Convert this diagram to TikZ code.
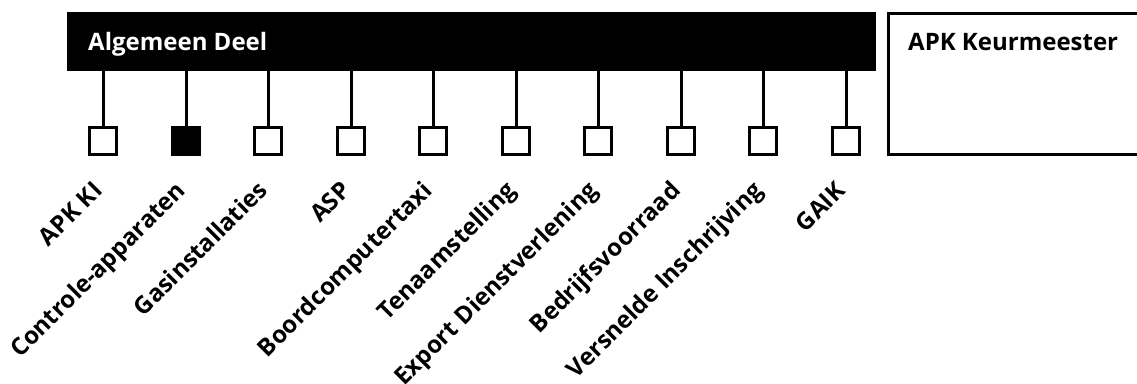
\documentclass[tikz,border=0pt]{standalone}
\usepackage{fontspec}
\setmainfont{Open Sans}
\begin{document}
\begin{tikzpicture}[x=1pt,y=-1pt,
  sq/.style={draw,line width=3pt,minimum size=27pt,inner sep=0pt,outer sep=0pt,anchor=center,fill=white},
  lab/.style={font=\fontsize{24}{24}\selectfont\bfseries,rotate=45,anchor=base east,inner sep=0pt},
  hdr/.style={font=\fontsize{24}{24}\selectfont\bfseries,anchor=base west,inner sep=0pt},
  conn/.style={line width=3pt}]
\useasboundingbox (0,0) rectangle (1137,383);
\clip (0,0) rectangle (1137,383);
\node[fill=black,minimum width=809pt,minimum height=59pt,inner sep=0pt,outer sep=0pt,anchor=north west] (bar) at (67,12) {};
\node[hdr,text=white] (bartitle) at (88,50) {Algemeen Deel};
\node[draw,line width=3pt,minimum width=260pt,minimum height=141pt,inner sep=0pt,outer sep=0pt,anchor=north west] (box) at (888.5,13.5) {};
\node[hdr] (boxtitle) at (908,50) {APK Keurmeester};
\foreach \i/\x/\t in {1/103/APK KI,2/186/Controle-apparaten,3/268/Gasinstallaties,4/351/ASP,5/433/Boordcomputertaxi,6/516/Tenaamstelling,7/598/Export Dienstverlening,8/681/Bedrijfsvoorraad,9/763/Versnelde Inschrijving,10/846/GAIK}{
  \node[sq] (s\i) at (\x,141) {};
  \draw[conn] (s\i.north) -- (s\i.north |- bar.south);
  \node[lab] (l\i) at (\x+1,192) {\t};
}
\node[sq,fill=black] at (s2) {};
\end{tikzpicture}
\end{document}
